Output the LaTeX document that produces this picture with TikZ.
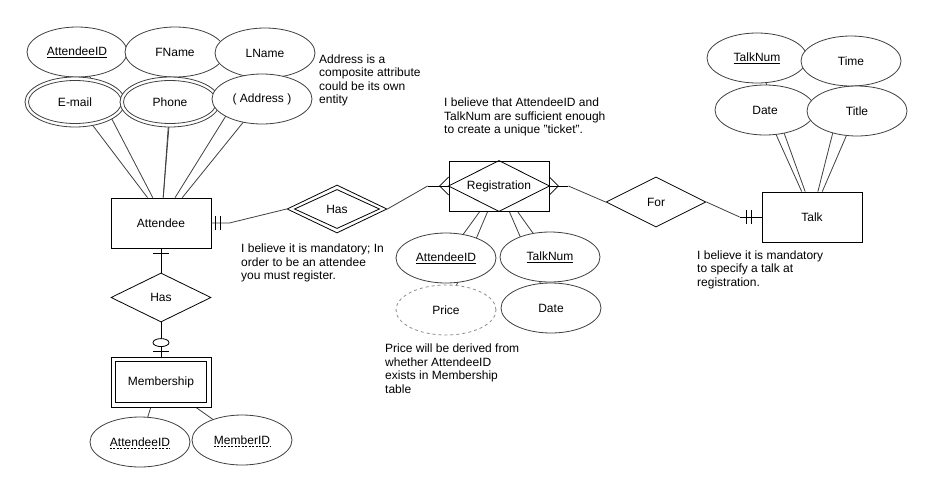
\documentclass[tikz,border=0pt]{standalone}
\usepackage{fontspec}
\setmainfont{Liberation Sans}
\usetikzlibrary{shapes.geometric}
\pgfdeclarelayer{paper}
\pgfdeclarelayer{lines}
\pgfsetlayers{paper,lines,main}
\begin{document}
\begin{tikzpicture}[x=1pt,y=-1pt,
  every node/.style={font=\fontsize{12}{13.5}\selectfont},
  ent/.style={draw=black, line width=0.8pt, fill=white, minimum width=100pt, minimum height=50pt, inner sep=0pt},
  attr/.style={ellipse, draw=black!75, line width=0.8pt, fill=white, minimum width=100pt, minimum height=50pt, inner sep=0pt},
  rel/.style={diamond, draw=black, line width=0.8pt, fill=white, minimum width=100pt, minimum height=50pt, inner sep=0pt},
  conn/.style={draw=black!75, line width=0.8pt},
  tickline/.style={draw=black, line width=0.8pt},
  note/.style={anchor=north west, align=left, inner sep=0pt},
  plain/.style={inner sep=0pt},
]
\begin{pgfonlayer}{paper}
\fill[white] (0,0) rectangle (934,493);
\end{pgfonlayer}
\useasboundingbox (0,0) rectangle (934,493);

% ---------- Attendee and its attributes ----------
\node[ent] (att) at (161,223) {Attendee};
\node[attr] (aid) at (77,52) {\underline{AttendeeID}};
\node[attr] (fname) at (175,52) {FName};
\node[attr] (lname) at (265,53) {LName};
\node[attr] (email) at (75,102) {E-mail};
\draw[black!75, line width=0.8pt] (email.center) ellipse [x radius=46.5pt, y radius=21.5pt];
\node[attr] (phone) at (170,102) {Phone};
\draw[black!75, line width=0.8pt] (phone.center) ellipse [x radius=46.5pt, y radius=21.5pt];
\node[attr] (addr) at (262,99) {( Address )};

\begin{pgfonlayer}{lines}
\draw[conn] (att.118) -- (email.center);
\draw[conn] (att.108) -- (aid.center);
\draw[conn] (att.85) -- (phone.center);
\draw[conn] (att.85) -- (fname.center);
\draw[conn] (att.61) -- (lname.center);
\draw[conn] (att.50) -- (addr.center);
\end{pgfonlayer}

\node[note] (addrnote) at (319,54.5) {Address is a\\composite attribute\\could be its own\\entity};

% ---------- Has (Attendee - Registration) ----------
\node[rel, minimum height=48pt] (has) at (337,209) {Has};
\draw[line width=0.8pt] ([xshift=8pt]has.west) -- ([yshift=-5pt]has.north) -- ([xshift=-8pt]has.east) -- ([yshift=5pt]has.south) -- cycle;
\coordinate (a1) at ([xshift=18pt]att.east);
\draw[conn] (att.east) -- (a1) -- (has.west);
\draw[tickline] ([xshift=4pt,yshift=7pt]att.east) -- ([xshift=4pt,yshift=-7pt]att.east);
\draw[tickline] ([xshift=9pt,yshift=7pt]att.east) -- ([xshift=9pt,yshift=-7pt]att.east);
\node[note] (hasnote) at (241,244) {I believe it is mandatory; In\\order to be an attendee\\you must register.};

% ---------- Registration ----------
\node[ent] (reg) at (499,186) {Registration};
\draw[line width=0.8pt] (reg.north) -- (reg.east) -- (reg.south) -- (reg.west) -- cycle;
\coordinate (r1) at ([xshift=-21pt]reg.west);
\draw[conn] (has.east) -- (r1);
\draw[tickline] (r1) -- (reg.west);
\draw[tickline] ([yshift=9pt]reg.west) -- ([xshift=-9pt]reg.west) -- ([yshift=-9pt]reg.west);
\coordinate (r2) at ([xshift=19pt]reg.east);
\draw[tickline] (reg.east) -- (r2);
\draw[tickline] ([yshift=9pt]reg.east) -- ([xshift=9pt]reg.east) -- ([yshift=-9pt]reg.east);
\node[note] (regnote) at (444,98) {I believe that AttendeeID and\\TalkNum are sufficient enough\\to create a unique "ticket".};

\node[attr, dashed, draw=black!45] (price) at (446,310) {Price};
\node[attr] (raid) at (446,258) {\underline{AttendeeID}};
\node[attr] (rtnum) at (550,257) {\underline{TalkNum}};
\node[attr] (rdate) at (551,308) {Date};
\begin{pgfonlayer}{lines}
\draw[conn] (reg.233) -- (raid.center);
\draw[conn] (reg.246) -- (price.center);
\draw[conn] (reg.292) -- (rdate.center);
\draw[conn] (reg.306) -- (rtnum.center);
\end{pgfonlayer}
\node[note] (pricenote) at (385,344) {Price will be derived from\\whether AttendeeID\\exists in Membership\\table};

% ---------- For / Talk ----------
\node[rel] (for) at (656,202) {For};
\draw[conn] (r2) -- (for.west);
\node[ent] (talk) at (812,217) {Talk};
\coordinate (t1) at ([xshift=-22pt]talk.west);
\draw[conn] (for.east) -- (t1);
\draw[tickline] (t1) -- (talk.west);
\draw[tickline] ([xshift=-15pt,yshift=7pt]talk.west) -- ([xshift=-15pt,yshift=-7pt]talk.west);
\draw[tickline] ([xshift=-10pt,yshift=7pt]talk.west) -- ([xshift=-10pt,yshift=-7pt]talk.west);

\node[attr] (tnum) at (757,58) {\underline{TalkNum}};
\node[attr] (time) at (851,61) {Time};
\node[attr] (tdate) at (765,110) {Date};
\node[attr] (title) at (857,111) {Title};
\begin{pgfonlayer}{lines}
\draw[conn] (talk.112) -- (tdate.center);
\draw[conn] (talk.105) -- (tnum.center);
\draw[conn] (talk.77) -- (time.center);
\draw[conn] (talk.68) -- (title.center);
\end{pgfonlayer}
\node[note] (talknote) at (697,250.5) {I believe it is mandatory\\to specify a talk at\\registration.};

% ---------- Membership ----------
\node[rel, minimum height=49pt] (mhas) at (161,297.5) {Has};
\node[ent] (mem) at (161,382) {Membership};
\draw[line width=0.8pt] ([shift={(5pt,5pt)}]mem.south west) rectangle ([shift={(-5pt,-5pt)}]mem.north east);
\draw[tickline] (att.south) -- (mhas.north);
\draw[tickline] ([xshift=-8pt,yshift=-4.5pt]att.south) -- ([xshift=8pt,yshift=-4.5pt]att.south);
\draw[tickline] (mhas.south) -- (mem.north);
\draw[tickline] ([xshift=-8pt,yshift=5.5pt]mem.north) -- ([xshift=8pt,yshift=5.5pt]mem.north);
\draw[tickline, fill=white] ([yshift=14pt]mem.north) ellipse [x radius=8pt, y radius=4pt];

\node[attr] (maid) at (140,442) {};
\node[plain] (maidt) at (maid.center) {AttendeeID};
\draw[black, line width=0.7pt, dash pattern=on 2pt off 1.5pt] ([yshift=-2pt]maidt.base west) -- ([yshift=-2pt]maidt.base east);
\node[attr] (mid) at (242,440) {};
\node[plain] (midt) at (mid.center) {MemberID};
\draw[black, line width=0.7pt, dash pattern=on 2pt off 1.5pt] ([yshift=-2pt]midt.base west) -- ([yshift=-2pt]midt.base east);
\begin{pgfonlayer}{lines}
\draw[conn] (mem.248) -- (maid.center);
\draw[conn] (mem.324) -- (mid.center);
\end{pgfonlayer}
\end{tikzpicture}
\end{document}
